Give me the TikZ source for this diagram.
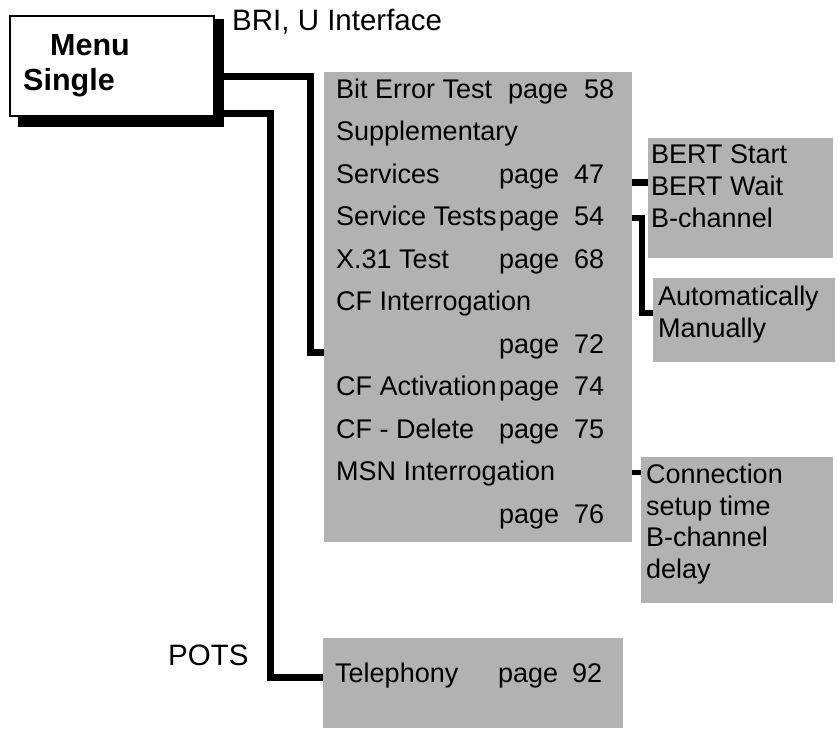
\documentclass[tikz,border=0pt]{standalone}
\usepackage{fontspec}
\setmainfont{Liberation Sans}
\definecolor{boxgray}{RGB}{178,178,178}
\begin{document}
\begin{tikzpicture}[x=1pt,y=-1pt,
  txt/.style={anchor=base west,inner sep=0pt,font=\fontsize{27}{32}\selectfont},
  bigtxt/.style={txt,font=\fontsize{29.5}{34}\selectfont},
  boldtxt/.style={txt,font=\fontsize{30.5}{36}\selectfont\bfseries},
  graybox/.style={fill=boxgray,draw=none,inner sep=0pt,anchor=north west},
  link/.style={line width=7pt,line join=miter},
]
\useasboundingbox (0,0) rectangle (838,729);

% menu box with its drop shadow
\fill (18,19) rectangle (224,127);
\coordinate (shadowtop) at (224,76);
\coordinate (shadowbot) at (224,113);
\node[draw,fill=white,line width=2pt,inner sep=0pt,anchor=north west,
      minimum width=204pt,minimum height=100pt] (menu) at (9,15) {};
\node[boldtxt] (menut) at (50,55) {Menu};
\node[boldtxt] (single) at (23,90) {Single};

% grey panels
\node[graybox,minimum width=308pt,minimum height=470pt] (main) at (324,72) {};
\node[graybox,minimum width=300pt,minimum height=90pt] (tel) at (323,638) {};
\node[graybox,minimum width=185pt,minimum height=120pt] (bert) at (648,138) {};
\node[graybox,minimum width=182pt,minimum height=84pt] (auto) at (653,278) {};
\node[graybox,minimum width=192pt,minimum height=146pt] (conn) at (641,457) {};

% labels outside the panels
\node[bigtxt] (bri) at (232,30) {BRI, U Interface};
\node[bigtxt] (pots) at (168,665) {POTS};

% main menu entries
\node[txt] (r0) at (336,98) {Bit Error Test};
\node[txt] (p0) at (508,98) {page};
\node[txt] (n0) at (584,98) {58};
\node[txt] (r1) at (336,140.5) {Supplementary};
\node[txt] (r2) at (336,183) {Services};
\node[txt] (p2) at (499,183) {page};
\node[txt] (n2) at (574,183) {47};
\node[txt] (r3) at (336,225.5) {Service Tests};
\node[txt] (p3) at (499,225.5) {page};
\node[txt] (n3) at (574,225.5) {54};
\node[txt] (r4) at (336,268) {X.31 Test};
\node[txt] (p4) at (499,268) {page};
\node[txt] (n4) at (574,268) {68};
\node[txt] (r5) at (336,310.5) {CF Interrogation};
\node[txt] (p6) at (499,353) {page};
\node[txt] (n6) at (574,353) {72};
\node[txt] (r7) at (336,395.5) {CF Activation};
\node[txt] (p7) at (499,395.5) {page};
\node[txt] (n7) at (574,395.5) {74};
\node[txt] (r8) at (336,438) {CF - Delete};
\node[txt] (p8) at (499,438) {page};
\node[txt] (n8) at (574,438) {75};
\node[txt] (r9) at (336,480.5) {MSN Interrogation};
\node[txt] (p10) at (499,523) {page};
\node[txt] (n10) at (574,523) {76};

% POTS entry
\node[txt] (telt) at (335,682) {Telephony};
\node[txt] (telp) at (498,682) {page};
\node[txt] (teln) at (572,682) {92};

% sub-menus
\node[txt] (b1) at (651,163) {BERT Start};
\node[txt] (b2) at (651,195) {BERT Wait};
\node[txt] (b3) at (651,227) {B-channel};
\node[txt] (a1) at (658,305) {Automatically};
\node[txt] (a2) at (658,337) {Manually};
\node[txt] (c1) at (646,483) {Connection};
\node[txt] (c2) at (646,515) {setup time};
\node[txt] (c3) at (646,546) {B-channel};
\node[txt] (c4) at (646,578) {delay};

% connectors
\draw[link] (shadowtop) -| (310,352) -- (main.west |- 0,352);
\draw[link] (shadowbot) -| (270,677) -- (tel.west |- 0,677);
\draw[link] (main.east |- 0,182) -- (bert.west |- 0,182);
\draw[line width=6pt,line join=miter] (main.east |- 0,218) -| (641.5,313) -- (auto.west |- 0,313);
\draw[line width=5pt] (main.east |- 0,472) -- (conn.west |- 0,472);
\end{tikzpicture}
\end{document}
